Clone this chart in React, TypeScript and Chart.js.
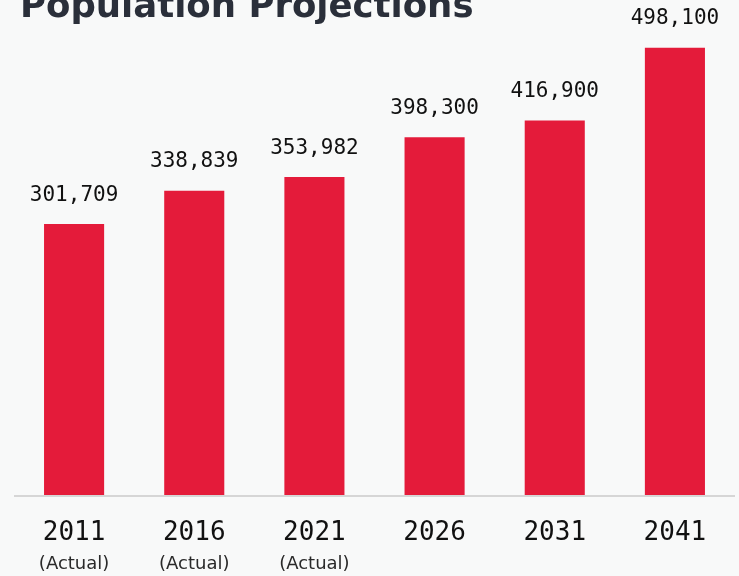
import React, { useEffect, useRef } from "react";
import { Chart, registerables } from "chart.js";

Chart.register(...registerables);

const titleText = "Population Projections";
const years = ["2011", "2016", "2021", "2026", "2031", "2041"];
const subLabels = ["(Actual)", "(Actual)", "(Actual)", "", "", ""];
const population = [301709, 338839, 353982, 398300, 416900, 498100];
const yMin = 0;
const yMax = 500000;

const BG = "#f8f9f9";
const BAR = "#e41b3a";

const fmt = (v: number) => v.toLocaleString("en-US");

export default function App() {
  const ref = useRef<HTMLCanvasElement | null>(null);
  useEffect(() => {
    if (!ref.current) return;
    const decor = {
      id: "decor",
      beforeDraw(chart: any) {
        const { ctx, width, height } = chart;
        ctx.save();
        ctx.fillStyle = BG;
        ctx.fillRect(0, 0, width, height);
        ctx.fillStyle = "#2a2f3a";
        ctx.font = "bold 35.5px 'DejaVu Sans'";
        ctx.textBaseline = "alphabetic";
        ctx.textAlign = "left";
        ctx.fillText(titleText, 20, 17);
        ctx.restore();
      },
      afterDatasetsDraw(chart: any) {
        const { ctx, chartArea } = chart;
        const xs = chart.scales.x;
        const ys = chart.scales.y;
        ctx.save();
        const y0 = ys.getPixelForValue(0);
        ctx.strokeStyle = "#d6d6d6";
        ctx.lineWidth = 2;
        ctx.beginPath();
        ctx.moveTo(chartArea.left, y0 + 1);
        ctx.lineTo(chartArea.right, y0 + 1);
        ctx.stroke();
        const meta = chart.getDatasetMeta(0);
        ctx.textAlign = "center";
        ctx.textBaseline = "middle";
        population.forEach((v, i) => {
          const bar = meta.data[i];
          ctx.fillStyle = "#111";
          ctx.font = "21px 'DejaVu Sans Mono'";
          ctx.fillText(fmt(v), bar.x, bar.y - 29);
        });
        years.forEach((yr, i) => {
          const x = xs.getPixelForValue(i);
          ctx.fillStyle = "#111";
          ctx.font = "26px 'DejaVu Sans Mono'";
          ctx.fillText(yr, x, 533);
          if (subLabels[i]) {
            ctx.fillStyle = "#2a2a2a";
            ctx.font = "18px 'DejaVu Sans'";
            ctx.fillText(subLabels[i], x, 564);
          }
        });
        ctx.restore();
      },
    };
    const chart = new Chart(ref.current, {
      type: "bar",
      data: {
        labels: years,
        datasets: [
          {
            data: population,
            backgroundColor: BAR,
            borderWidth: 0,
            barPercentage: 0.5,
            categoryPercentage: 1,
          },
        ],
      },
      options: {
        responsive: false,
        animation: false,
        layout: { padding: { top: 46, bottom: 81, left: 14, right: 4 } },
        plugins: { legend: { display: false }, tooltip: { enabled: false } },
        scales: {
          x: { display: false },
          y: { display: false, min: yMin, max: yMax },
        },
      },
      plugins: [decor],
    });
    return () => chart.destroy();
  }, []);
  return (
    <div style={{ position: "fixed", left: 0, top: 0, width: 739, height: 576, background: BG }}>
      <canvas ref={ref} width={739} height={576} style={{ display: "block", width: 739, height: 576 }} />
    </div>
  );
}
